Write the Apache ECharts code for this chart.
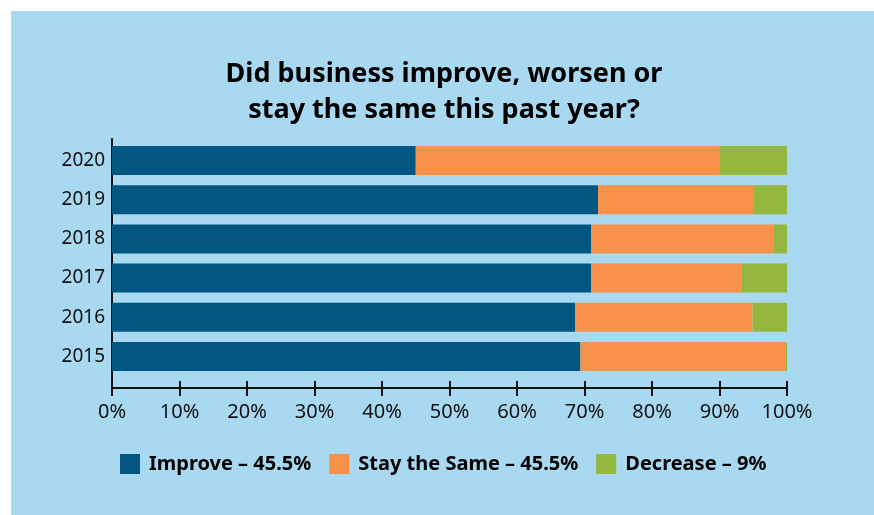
<!DOCTYPE html>
<html>
<head>
  <title>Business improve / worsen / same</title>
  <script src="https://cdn.jsdelivr.net/npm/echarts@6/dist/echarts.min.js"></script>
  <style>
    body { margin: 0; background: #ffffff; }
    #panel { position: absolute; left: 11px; top: 11px; width: 863px; height: 504px; background: #a9d8f1; }
    #chartContainer { position: absolute; left: 0; top: 0; width: 874px; height: 515px; }
  </style>
</head>
<body>
  <div id="panel"></div>
  <div id="chartContainer"></div>

  <script>
    // Data (bottom to top)
    const years = ['2015', '2016', '2017', '2018', '2019', '2020'];
    const improve = [69.4, 68.6, 71, 71, 72, 45];
    const staySame = [30.4, 26.3, 22.3, 27, 23, 45];
    const decrease = [0.2, 5.1, 6.7, 2, 5, 10];
    const seriesNames = ['Improve – 45.5%', 'Stay the Same – 45.5%', 'Decrease – 9%'];
    const xTicks = [0, 10, 20, 30, 40, 50, 60, 70, 80, 90, 100];

    const colors = ['#015682', '#f8914a', '#94b73f'];
    const font = '"Noto Sans", sans-serif';

    const chartContainer = document.getElementById('chartContainer');
    const myChart = echarts.init(chartContainer);

    const option = {
      animation: false,
      backgroundColor: 'transparent',
      title: {
        text: 'Did business improve, worsen or\nstay the same this past year?',
        left: 439,
        textAlign: 'center',
        top: 51,
        textStyle: {
          fontFamily: font,
          fontWeight: 'bold',
          fontSize: 27,
          lineHeight: 36,
          color: '#000'
        }
      },
      legend: {
        top: 449,
        left: 115,
        itemWidth: 20,
        itemHeight: 20,
        itemGap: 18,
        icon: 'rect',
        data: seriesNames,
        textStyle: {
          fontFamily: font,
          fontWeight: 'bold',
          fontSize: 20,
          color: '#000',
          padding: [0, 0, 0, 4]
        }
      },
      // grid 0 holds the bars, grid 1 draws the full-length axes
      grid: [
        { left: 112, width: 675, top: 141, height: 235 },
        { left: 112, width: 675, top: 139, height: 249 }
      ],
      xAxis: [
        { type: 'value', gridIndex: 0, min: 0, max: 100, show: false },
        {
          type: 'value', gridIndex: 1, min: xTicks[0], max: xTicks[xTicks.length - 1], interval: 10,
          axisLine: { show: true, lineStyle: { color: '#111', width: 2 } },
          axisTick: { show: true, length: 8, lineStyle: { color: '#111', width: 2 } },
          splitLine: { show: false },
          axisLabel: { margin: 14, fontFamily: font, fontSize: 20, color: '#111', formatter: '{value}%' }
        },
        {
          type: 'value', gridIndex: 1, position: 'bottom', min: 0, max: 100, interval: 10,
          axisLine: { show: false },
          axisTick: { show: true, inside: true, length: 7, lineStyle: { color: '#111', width: 2 } },
          splitLine: { show: false },
          axisLabel: { show: false }
        }
      ],
      yAxis: [
        {
          type: 'category', gridIndex: 0, data: years,
          axisLine: { show: false },
          axisTick: { show: false },
          axisLabel: { margin: 7, fontFamily: font, fontSize: 19, color: '#111' }
        },
        {
          type: 'value', gridIndex: 1, min: 0, max: 1,
          axisLine: { show: true, lineStyle: { color: '#111', width: 2 } },
          axisTick: { show: false },
          axisLabel: { show: false },
          splitLine: { show: false }
        }
      ],
      series: [
        { name: seriesNames[0], type: 'bar', stack: 'all', xAxisIndex: 0, yAxisIndex: 0, barWidth: 29, data: improve, itemStyle: { color: colors[0] } },
        { name: seriesNames[1], type: 'bar', stack: 'all', xAxisIndex: 0, yAxisIndex: 0, barWidth: 29, data: staySame, itemStyle: { color: colors[1] } },
        { name: seriesNames[2], type: 'bar', stack: 'all', xAxisIndex: 0, yAxisIndex: 0, barWidth: 29, data: decrease, itemStyle: { color: colors[2] } }
      ]
    };

    myChart.setOption(option);
  </script>
</body>
</html>
